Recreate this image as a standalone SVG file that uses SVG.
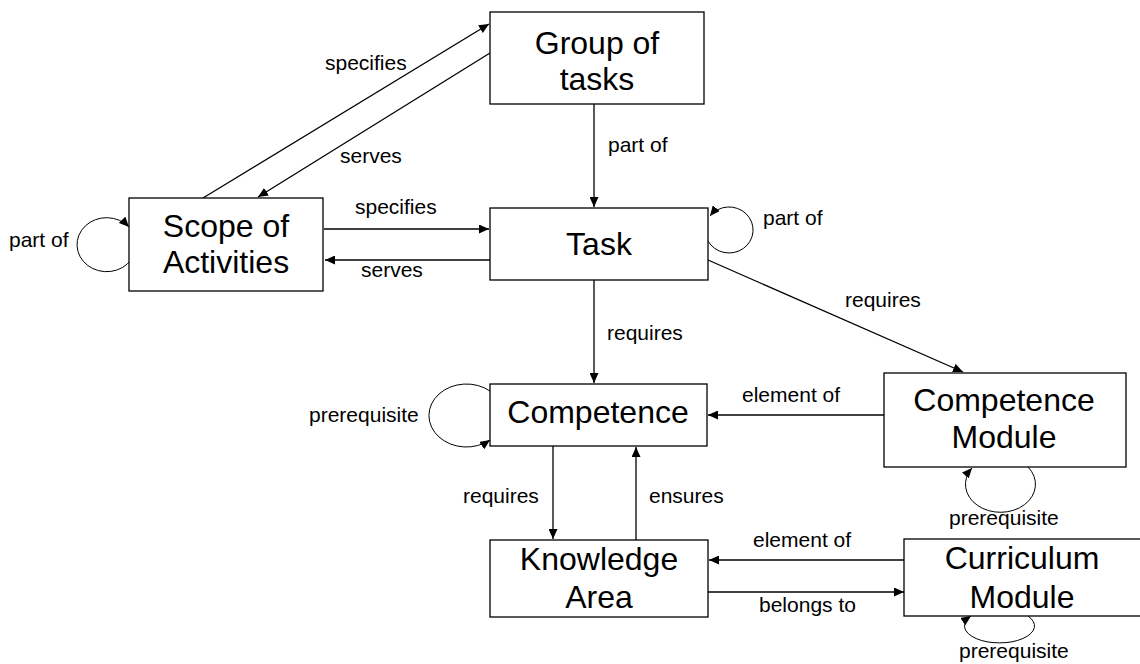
<svg xmlns="http://www.w3.org/2000/svg" width="1140" height="664" viewBox="0 0 1140 664">
<style>
.box{fill:#fff;stroke:#000;stroke-width:1.3}
.nt{font-family:"Liberation Sans",Arial,sans-serif;font-size:32px;fill:#000;text-anchor:middle}
.lb{font-family:"Liberation Sans",Arial,sans-serif;font-size:21px;fill:#000}
.ln{fill:none;stroke:#000;stroke-width:1.3}
.lp{fill:none;stroke:#000;stroke-width:1}
</style>
<defs>
<marker id="ah" markerUnits="userSpaceOnUse" markerWidth="11" markerHeight="9" refX="10" refY="4.5" orient="auto" viewBox="0 0 11 9">
<path d="M0,0 L10,4.5 L0,9 z" fill="#000"/>
</marker>
</defs>
<rect width="1140" height="664" fill="#fff"/>
<g id="connectors">
<line class="ln" x1="203" y1="198" x2="489" y2="24" marker-end="url(#ah)"/>
<line class="ln" x1="490" y1="53" x2="258" y2="197" marker-end="url(#ah)"/>
<line class="ln" x1="594" y1="104" x2="594" y2="207" marker-end="url(#ah)"/>
<line class="ln" x1="324" y1="229" x2="489" y2="229" marker-end="url(#ah)"/>
<line class="ln" x1="490" y1="260" x2="325" y2="260" marker-end="url(#ah)"/>
<line class="ln" x1="594" y1="280" x2="594" y2="383" marker-end="url(#ah)"/>
<line class="ln" x1="708" y1="260" x2="963" y2="372" marker-end="url(#ah)"/>
<line class="ln" x1="884" y1="415" x2="708" y2="415" marker-end="url(#ah)"/>
<line class="ln" x1="553" y1="446" x2="553" y2="539" marker-end="url(#ah)"/>
<line class="ln" x1="636" y1="540" x2="636" y2="447" marker-end="url(#ah)"/>
<line class="ln" x1="905" y1="560" x2="709" y2="560" marker-end="url(#ah)"/>
<line class="ln" x1="708" y1="592" x2="904" y2="592" marker-end="url(#ah)"/>
<path class="lp" d="M131,260 A29.6,27 0 1 1 129,227" marker-end="url(#ah)"/>
<path class="lp" d="M708,241 A24,23 0 1 0 710,216" marker-end="url(#ah)"/>
<path class="lp" d="M490,391 A37.5,31.5 0 1 0 490,440" marker-end="url(#ah)"/>
<path class="lp" d="M1028,467 A35,28 0 1 1 972,468" marker-end="url(#ah)"/>
<path class="lp" d="M1028,616 A35,17 0 1 1 971,616" marker-end="url(#ah)"/>
<text class="lb" x="325" y="70">specifies</text>
<text class="lb" x="340" y="163">serves</text>
<text class="lb" x="608" y="152">part of</text>
<text class="lb" x="355" y="214">specifies</text>
<text class="lb" x="361" y="277">serves</text>
<text class="lb" x="9" y="247">part of</text>
<text class="lb" x="763" y="225">part of</text>
<text class="lb" x="607" y="340">requires</text>
<text class="lb" x="845" y="307">requires</text>
<text class="lb" x="309" y="422">prerequisite</text>
<text class="lb" x="742" y="402">element of</text>
<text class="lb" x="463" y="503">requires</text>
<text class="lb" x="649" y="503">ensures</text>
<text class="lb" x="949" y="525">prerequisite</text>
<text class="lb" x="753" y="547">element of</text>
<text class="lb" x="759" y="612">belongs to</text>
<text class="lb" x="959" y="658">prerequisite</text>
</g>
<g id="group-of-tasks">
<rect class="box" x="490" y="12" width="214" height="92"/>
<text class="nt" x="597" y="54">Group of</text>
<text class="nt" x="597" y="90">tasks</text>
</g>
<g id="scope-of-activities">
<rect class="box" x="129" y="198" width="194" height="93"/>
<text class="nt" x="226" y="237">Scope of</text>
<text class="nt" x="226" y="273">Activities</text>
</g>
<g id="task">
<rect class="box" x="490" y="208" width="218" height="72"/>
<text class="nt" x="599" y="255">Task</text>
</g>
<g id="competence">
<rect class="box" x="490" y="384" width="217" height="62"/>
<text class="nt" x="598" y="423">Competence</text>
</g>
<g id="competence-module">
<rect class="box" x="884" y="373" width="242" height="94"/>
<text class="nt" x="1004" y="411">Competence</text>
<text class="nt" x="1004" y="448">Module</text>
</g>
<g id="knowledge-area">
<rect class="box" x="490" y="540" width="218" height="77"/>
<text class="nt" x="599" y="570">Knowledge</text>
<text class="nt" x="599" y="608">Area</text>
</g>
<g id="curriculum-module">
<rect class="box" x="904" y="539" width="245" height="77"/>
<text class="nt" x="1022" y="569">Curriculum</text>
<text class="nt" x="1022" y="608">Module</text>
</g>
</svg>
